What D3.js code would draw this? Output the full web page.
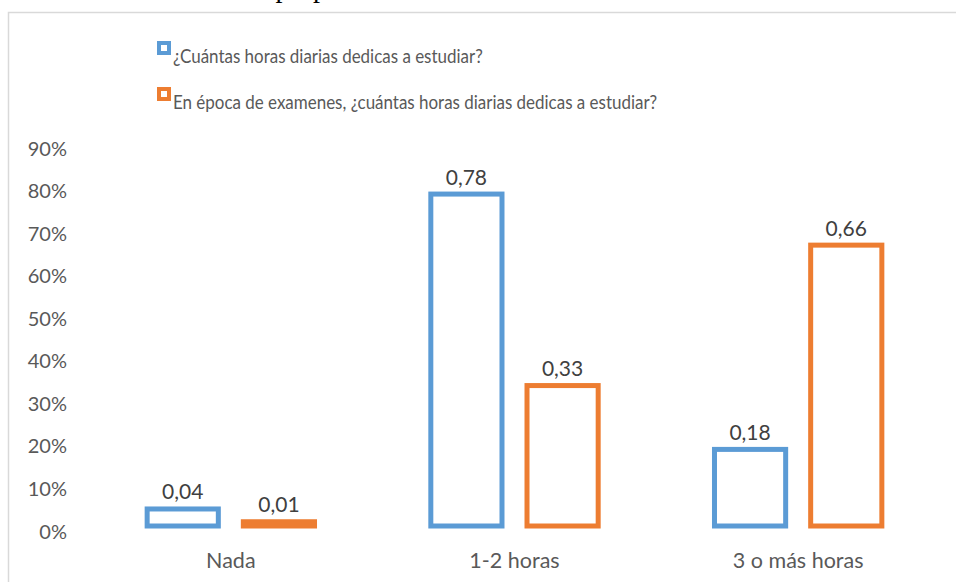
<!DOCTYPE html>
<html>
<head>
<meta charset="utf-8">
<script src="https://cdn.jsdelivr.net/npm/d3@7"></script>
<style>
  body { margin: 0; background: #fff; }
  svg { display: block; }
  text { font-family: Lato, "Open Sans", sans-serif; }
</style>
</head>
<body>
<svg id="chart" width="956" height="582"></svg>
<script>
// Datos del gráfico
const categories = ["Nada", "1-2 horas", "3 o más horas"];
const seriesNames = [
    "¿Cuántas horas diarias dedicas a estudiar?",
    "En época de examenes, ¿cuántas horas diarias dedicas a estudiar?"
];
const diario    = [0.04, 0.78, 0.18];
const examenes  = [0.01, 0.33, 0.66];
const yTicks    = [0, 0.1, 0.2, 0.3, 0.4, 0.5, 0.6, 0.7, 0.8, 0.9];

const colors = ["#5b9bd5", "#ed7d31"];
const series = [diario, examenes];

const svg = d3.select("#chart");

// Texto de la fuente (cortado por arriba)
svg.append("text")
    .attr("x", 47)
    .attr("y", -3.5)
    .style("font-family", "'Liberation Serif', 'DejaVu Serif', serif")
    .style("font-size", "28px")
    .attr("fill", "#000")
    .text("Fuente: elaboración propia");

// Marco del gráfico
svg.append("rect")
    .attr("x", 8.5)
    .attr("y", 12.5)
    .attr("width", 990)
    .attr("height", 620)
    .attr("fill", "none")
    .attr("stroke", "#d9d9d9")
    .attr("stroke-width", 1.5);

// Escalas
const x0 = d3.scaleBand()
    .domain(categories)
    .range([89, 940])
    .paddingInner(0.41)
    .paddingOuter(0.205);

const x1 = d3.scaleBand()
    .domain([0, 1])
    .range([0, x0.bandwidth()])
    .paddingInner(0.26);

const y = d3.scaleLinear()
    .domain([0, 0.9])
    .range([526, 143]);

// Eje Y (solo etiquetas)
const yAxis = svg.append("g")
    .attr("transform", "translate(67,0)")
    .call(d3.axisLeft(y)
        .tickValues(yTicks)
        .tickSize(0)
        .tickPadding(0)
        .tickFormat(d3.format(".0%")));

yAxis.select(".domain").remove();
yAxis.selectAll("text")
    .attr("dy", "0.85em")
    .attr("y", -5)
    .style("font-family", "Lato, sans-serif")
    .style("font-size", "20px")
    .attr("fill", "#595959");

// Eje X (solo etiquetas)
const xAxis = svg.append("g")
    .attr("transform", "translate(0,568)")
    .call(d3.axisBottom(x0).tickSize(0).tickPadding(0));

xAxis.select(".domain").remove();
xAxis.selectAll("text")
    .attr("dy", 0)
    .attr("y", 0)
    .style("font-family", "Lato, sans-serif")
    .style("font-size", "21.5px")
    .attr("fill", "#595959");

// Barras
const groups = svg.append("g")
    .selectAll("g")
    .data(categories)
    .join("g")
    .attr("transform", d => `translate(${x0(d)},0)`);

groups.selectAll("rect")
    .data((d, i) => series.map((s, k) => ({ k: k, v: s[i] })))
    .join("rect")
    .attr("x", d => x1(d.k))
    .attr("y", d => y(d.v))
    .attr("width", x1.bandwidth())
    .attr("height", d => y(0) - y(d.v))
    .attr("fill", "#fff")
    .attr("stroke", d => colors[d.k])
    .attr("stroke-width", 5);

// Etiquetas de datos
groups.selectAll("text.label")
    .data((d, i) => series.map((s, k) => ({ k: k, v: s[i] })))
    .join("text")
    .attr("class", "label")
    .attr("x", d => x1(d.k) + x1.bandwidth() / 2)
    .attr("y", d => y(d.v) - 9.5)
    .attr("text-anchor", "middle")
    .style("font-size", "21px")
    .attr("fill", "#404040")
    .text(d => d3.format(".2f")(d.v).replace(".", ","));

// Leyenda
const legend = svg.append("g")
    .selectAll("g")
    .data(seriesNames)
    .join("g")
    .attr("transform", (d, i) => `translate(157,${41 + i * 46})`);

legend.append("rect")
    .attr("x", 2)
    .attr("y", 2)
    .attr("width", 10)
    .attr("height", 10)
    .attr("fill", "#fff")
    .attr("stroke", (d, i) => colors[i])
    .attr("stroke-width", 4);

// texto algo estrecho, como en el original
legend.append("text")
    .attr("transform", "translate(16,21.5) scale(0.87,1)")
    .style("font-size", "19.5px")
    .attr("fill", "#595959")
    .text(d => d);
</script>
</body>
</html>
